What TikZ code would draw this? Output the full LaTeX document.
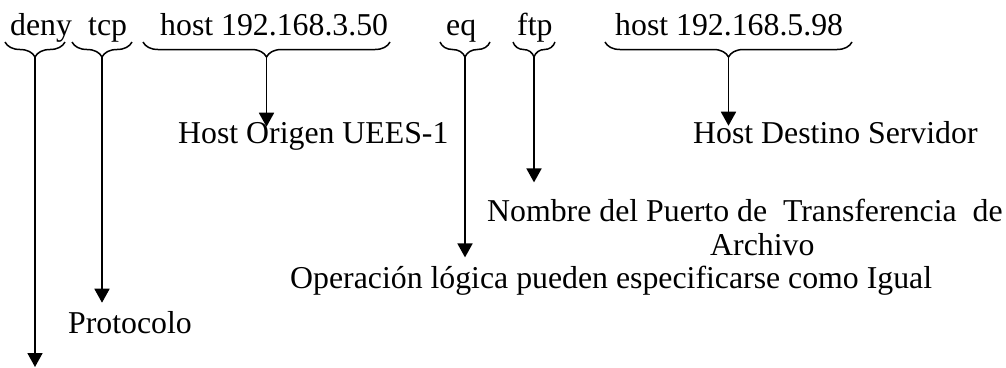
\documentclass[tikz,border=0pt]{standalone}
\usepackage{fontspec}
\setmainfont{Liberation Serif}
\usepackage{tikz}
\usetikzlibrary{arrows.meta, decorations.pathreplacing, calc}

\tikzset{
  word/.style={font=\fontsize{31.8}{36}\selectfont, inner sep=0pt, anchor=base west},
  brc/.style={decorate, decoration={brace, mirror, amplitude=15pt}, line width=1.5pt},
}

\begin{document}
\begin{tikzpicture}[x=1pt, y=-1pt, >={Triangle[width=15pt, length=14pt]}]
  \useasboundingbox (0,0) rectangle (1006,367);

  % Access list entry
  \node[word] (deny) at (10,35) {deny};
  \node[word] (tcp) at (88,35) {tcp};
  \node[word] (horig) at (160,35) {host 192.168.3.50};
  \node[word] (eq) at (446,35) {eq};
  \node[word] (ftp) at (517,35) {ftp};
  \node[word] (hdest) at (615,35) {host 192.168.5.98};

  % Braces under each field
  \foreach \nm/\l/\r in {deny/5/65, tcp/72/132, horig/143/390, eq/440/490, ftp/513/555, hdest/605/852} {
    \draw[brc] (\l,42) -- (\r,42);
    \coordinate (\nm-tip) at ({(\l+\r)/2},57);
  }

  % Meaning of each field
  \node[word] (origen) at (178,143) {Host Origen UEES-1};
  \node[word] (destino) at (693,143) {Host Destino Servidor};
  \node[word] (puerto) at (487,221) {Nombre del Puerto de~ Transferencia~ de};
  \node[word] (archivo) at (710,255) {Archivo};
  \node[word] (igual) at (290,288) {Operación lógica pueden especificarse como Igual};
  \node[word] (proto) at (68,333) {Protocolo};
  \coordinate (deny-end) at (38,367);

  % Arrows
  \draw[->, line width=1.8pt] (deny-tip) -- (deny-tip |- deny-end);
  \draw[->, line width=1.8pt, shorten >=8pt] (tcp-tip) -- (tcp-tip |- proto.north);
  \draw[->, line width=1.8pt, shorten >=-5pt] (horig-tip) -- (horig-tip |- origen.north);
  \draw[->, line width=1.8pt, shorten >=8pt] (eq-tip) -- (eq-tip |- igual.north);
  \draw[->, line width=1.8pt, shorten >=16pt] (ftp-tip) -- (ftp-tip |- puerto.north);
  \draw[->, line width=1.8pt, shorten >=-5pt] (hdest-tip) -- (hdest-tip |- destino.north);

\end{tikzpicture}
\end{document}
